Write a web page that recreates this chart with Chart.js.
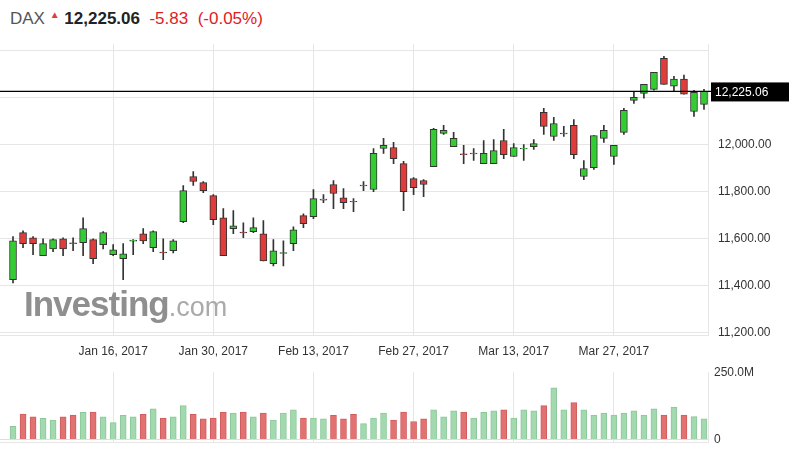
<!DOCTYPE html>
<html><head><meta charset="utf-8">
<script src="https://cdn.jsdelivr.net/npm/chart.js@4.4.0/dist/chart.umd.min.js"></script>
<style>
body{margin:0;width:797px;height:456px;background:#fff;position:relative;overflow:hidden;font-family:Arial,"Liberation Sans",sans-serif}
#hdr{position:absolute;left:10px;top:9px;font-size:17px;white-space:nowrap}
#c1{position:absolute;left:0;top:27px}
#c2{position:absolute;left:0;top:359px}
#wm{position:absolute;left:24px;top:284px;font-size:35px;font-weight:bold;color:#8f8f8f;letter-spacing:-1px}
#wm span{font-weight:normal;color:#aaa;font-size:27px;letter-spacing:0}
</style></head><body>
<div id="hdr"><span style="color:#555">DAX</span> <span style="color:#e03c3c;font-size:10px;vertical-align:top">&#9650;</span> <b style="color:#222">12,225.06</b> &nbsp;<span style="color:#e0201c">-5.83</span> &nbsp;<span style="color:#e0201c">(-0.05%)</span></div>
<canvas id="c1" width="797" height="340"></canvas>
<canvas id="c2" width="797" height="97"></canvas>
<div id="wm">Investing<span>.com</span></div>
<script>
const opens=[11426,11626,11604,11528,11557,11600,11583,11583,11596,11575,11532,11515,11590,11621,11562,11543,11549,11672,11864,11838,11783,11689,11643,11628,11630,11621,11494,11538,11579,11698,11694,11764,11830,11774,11759,11824,11809,11983,11987,11919,11855,11847,11906,12047,11991,11960,11960,11919,11919,12017,11949,11981,11991,12136,12034,12045,12081,11864,11902,12026,11949,12051,12187,12217,12234,12366,12247,12277,12140,12170];
const closes=[11591,11579,11579,11579,11596,11557,11579,11643,11515,11626,11553,11536,11594,11591,11630,11540,11591,11804,11843,11804,11681,11528,11655,11625,11647,11506,11549,11541,11638,11664,11770,11768,11792,11753,11757,11828,11962,11996,11940,11800,11817,11830,12064,12060,12026,11957,11962,11962,11974,11957,11987,11983,12004,12077,12089,12047,11957,11898,12038,12060,11996,12145,12200,12255,12306,12255,12277,12213,12221,12225.06];
const highs=[11609,11634,11609,11600,11600,11604,11604,11689,11600,11630,11575,11579,11596,11643,11634,11600,11596,11826,11885,11843,11787,11728,11719,11668,11689,11677,11596,11591,11651,11706,11809,11787,11847,11813,11770,11843,11983,12026,12009,11928,11860,11851,12068,12081,12051,11996,11983,12017,12021,12064,12004,12000,12021,12153,12115,12077,12106,11932,12038,12081,11996,12153,12226,12255,12306,12374,12289,12294,12230,12234];
const lows=[11413,11562,11532,11528,11545,11528,11549,11528,11494,11557,11528,11426,11532,11579,11545,11511,11540,11668,11826,11796,11660,11528,11621,11604,11626,11506,11485,11485,11549,11647,11685,11753,11728,11728,11715,11804,11800,11962,11919,11719,11787,11779,11906,12043,11991,11919,11932,11919,11919,11940,11949,11932,11979,12043,12017,12034,11940,11851,11894,12009,11915,12043,12174,12196,12230,12255,12226,12213,12119,12149];
const volumesM=[49,95,84,79,72,84,91,101,102,84,63,90,84,94,114,80,84,126,94,77,80,101,98,102,84,98,72,98,110,80,80,77,90,77,94,59,80,98,72,102,67,77,110,84,107,102,80,101,107,110,80,110,107,126,192,110,137,110,91,98,91,98,107,91,114,91,121,91,85,77];
const dateTicks=[10,20,30,40,50,60];
const dateLabels=["Jan 16, 2017","Jan 30, 2017","Feb 13, 2017","Feb 27, 2017","Mar 13, 2017","Mar 27, 2017"];
const priceTicks=[11200,11400,11600,11800,12000,12200,12400];
const lastPrice=12225.06;

const up=closes.map((c,i)=>c>=opens[i]);
const idx=opens.map((_,i)=>i);
const GRID='#e6e6e6';
const fmt=v=>v.toLocaleString('en-US',{minimumFractionDigits:2,maximumFractionDigits:2});
const xMin=-1.3,xMax=69.4,axisW=89;

const lastLine={id:'lastLine',afterDatasetsDraw(ch){
  const y=ch.scales.y.getPixelForValue(lastPrice),a=ch.chartArea,c=ch.ctx;
  c.save();c.strokeStyle='#000';c.lineWidth=1.2;c.beginPath();c.moveTo(a.left,y);c.lineTo(a.right+3,y);c.stroke();
  c.fillStyle='#000';c.fillRect(a.right+3,y-9,78,19);
  c.fillStyle='#fff';c.font='12px Arial';c.textBaseline='middle';c.fillText(fmt(lastPrice),a.right+7,y+1);c.restore();}};

const xAxis=(show)=>({type:'linear',min:xMin,max:xMax,offset:false,
     afterBuildTicks:s=>{s.ticks=dateTicks.map(v=>({value:v}));},
     afterFit:s=>{s.height=show?32:0;},
     ticks:{callback:(v)=>dateLabels[dateTicks.indexOf(v)],color:show?'#333':'rgba(0,0,0,0)',font:{size:12,family:'Arial'},maxRotation:0,autoSkip:false,padding:9},
     grid:{color:GRID,drawTicks:false,offset:false},border:{color:GRID}});

new Chart(document.getElementById('c1'),{type:'bar',
 data:{datasets:[
  {data:idx.map(i=>({x:i,y:[lows[i],highs[i]]})),backgroundColor:'#333',barThickness:1,grouped:false,order:2},
  {data:idx.map(i=>{let o=opens[i],c=closes[i];if(Math.abs(o-c)<3){c=o+(up[i]?3:-3);}return {x:i,y:[o,c]};}),
   backgroundColor:up.map(u=>u?'#33cc33':'#e03c3c'),borderColor:'#333',borderWidth:1,borderSkipped:false,barThickness:7,grouped:false,order:1}
 ]},
 options:{responsive:false,animation:false,events:[],layout:{padding:0},
  plugins:{legend:{display:false},tooltip:{enabled:false}},
  scales:{
   x:xAxis(true),
   y:{position:'right',min:11191.5,max:12425.5,
     afterBuildTicks:s=>{s.ticks=priceTicks.map(v=>({value:v}));},
     afterFit:s=>{s.width=axisW;},
     ticks:{callback:v=>(v===12400||v===12200)?'':fmt(v),color:'#333',font:{size:12,family:'Arial'},padding:10},
     grid:{color:GRID,drawTicks:false},border:{color:GRID}}
  }},plugins:[lastLine]});

new Chart(document.getElementById('c2'),{type:'bar',
 data:{datasets:[{data:idx.map(i=>({x:i,y:volumesM[i]})),backgroundColor:up.map(u=>u?'#a3d9ae':'#e27272'),borderColor:up.map(u=>u?'#8cc79a':'#d05c5c'),borderWidth:1,barThickness:6,grouped:false}]},
 options:{responsive:false,animation:false,events:[],layout:{padding:0},
  plugins:{legend:{display:false},tooltip:{enabled:false}},
  scales:{
   x:xAxis(false),
   y:{position:'right',min:-12,max:250,afterBuildTicks:s=>{s.ticks=[{value:0},{value:250}];},
     afterFit:s=>{s.width=axisW;},
     ticks:{callback:v=>v===250?'250.0M':'0',color:'#333',font:{size:12,family:'Arial'},padding:6},
     grid:{color:c=>c.tick&&c.tick.value===0?'#ddd':'rgba(0,0,0,0)',drawTicks:false},border:{color:GRID}}
  }}});
</script></body></html>
